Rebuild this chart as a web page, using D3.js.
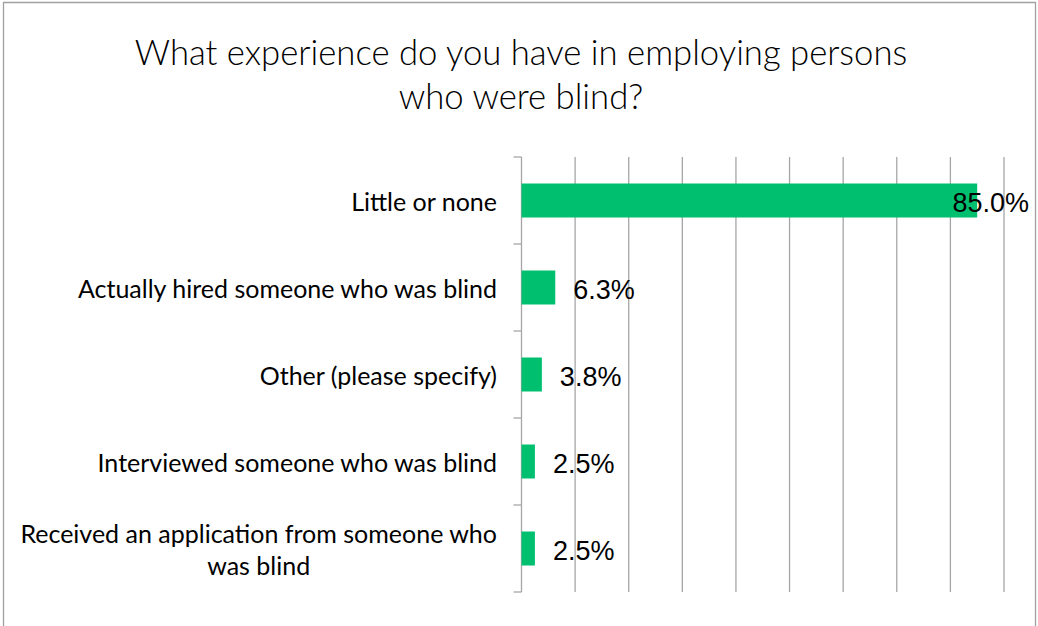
<!DOCTYPE html>
<html>
<head>
<meta charset="utf-8">
<script src="https://cdn.jsdelivr.net/npm/d3@7"></script>
<style>
  html, body { margin: 0; padding: 0; background: #fff; }
  svg { display: block; }
</style>
</head>
<body>
<script>
// Survey answers, in display order (top to bottom)
const categories = [
  "Little or none",
  "Actually hired someone who was blind",
  "Other (please specify)",
  "Interviewed someone who was blind",
  "Received an application from someone who was blind"
];
const percentValues = [85.0, 6.3, 3.8, 2.5, 2.5];
const axisTicks = [0, 10, 20, 30, 40, 50, 60, 70, 80, 90];
const titleLines = [
  "What experience do you have in employing persons",
  "who were blind?"
];

const W = 1038, H = 626;
const plot = { left: 521.5, right: 1004, top: 157, bottom: 592 };

const svg = d3.select("body").append("svg")
  .attr("width", W).attr("height", H);

svg.append("rect").attr("width", W).attr("height", H).attr("fill", "#fff");

// chart frame
svg.append("path")
  .attr("d", `M3.5,${H + 2} V2.5 H1035.5 V${H + 2}`)
  .attr("fill", "none").attr("stroke", "#a0a0a0").attr("stroke-width", 1.3);

// title
const title = svg.append("text")
  .attr("text-anchor", "middle")
  .attr("font-family", "Lato, 'Open Sans', sans-serif")
  .attr("font-weight", 300)
  .attr("font-size", 34.7)
  .attr("fill", "#000");
title.selectAll("tspan").data(titleLines).join("tspan")
  .attr("x", 521)
  .attr("y", (d, i) => 65 + i * 44)
  .text(d => d);

const x = d3.scaleLinear().domain([0, 90]).range([plot.left, plot.right]);
const y = d3.scaleBand().domain(categories).range([plot.top, plot.bottom]).padding(0);
const barH = 34;

// vertical gridlines
svg.append("g").selectAll("line").data(axisTicks.slice(1)).join("line")
  .attr("x1", d => x(d)).attr("x2", d => x(d))
  .attr("y1", plot.top).attr("y2", plot.bottom)
  .attr("stroke", "#a6a6a6").attr("stroke-width", 1.3);

// category axis with tick marks between categories
const boundaries = categories.map(c => y(c)).concat([plot.bottom]);
const axisG = svg.append("g");
axisG.append("line")
  .attr("x1", plot.left).attr("x2", plot.left)
  .attr("y1", plot.top).attr("y2", plot.bottom)
  .attr("stroke", "#a6a6a6").attr("stroke-width", 1.3);
axisG.selectAll("line.tick").data(boundaries).join("line")
  .attr("class", "tick")
  .attr("x1", plot.left - 8).attr("x2", plot.left)
  .attr("y1", d => d).attr("y2", d => d)
  .attr("stroke", "#a6a6a6").attr("stroke-width", 1.3);

// bars
const rows = categories.map((c, i) => ({ cat: c, val: percentValues[i] }));
svg.append("g").selectAll("rect").data(rows).join("rect")
  .attr("x", x(0))
  .attr("y", d => y(d.cat) + (y.bandwidth() - barH) / 2)
  .attr("width", d => x(d.val) - x(0))
  .attr("height", barH)
  .attr("fill", "#00bf6f");

// value labels
const valG = svg.append("g")
  .attr("font-family", "'Liberation Sans', Arial, sans-serif")
  .attr("font-size", 27)
  .attr("fill", "#000");
valG.selectAll("text").data(rows).join("text")
  .attr("y", d => y(d.cat) + y.bandwidth() / 2)
  .attr("dy", "0.42em")
  .text(d => d.val.toFixed(1) + "%")
  .each(function (d) {
    const w = this.getComputedTextLength();
    const px = Math.min(x(d.val) + 18, 1029 - w);
    d3.select(this).attr("x", px);
  });

// category labels, wrapped and centered on their widest line
const labelRight = 497, maxLabelW = 488, lineH = 32;
const labG = svg.append("g")
  .attr("font-family", "Lato, 'Open Sans', sans-serif")
  .attr("font-size", 25)
  .attr("fill", "#000");
rows.forEach(d => {
  const t = labG.append("text").attr("text-anchor", "middle");
  const words = d.cat.split(" ");
  const lines = [];
  let cur = "";
  const probe = labG.append("text");
  words.forEach(w => {
    const test = cur ? cur + " " + w : w;
    probe.text(test);
    if (probe.node().getComputedTextLength() > maxLabelW && cur) {
      lines.push(cur); cur = w;
    } else cur = test;
  });
  lines.push(cur);
  let widest = 0;
  lines.forEach(l => { probe.text(l); widest = Math.max(widest, probe.node().getComputedTextLength()); });
  probe.remove();
  const cx = labelRight - widest / 2;
  const cy = y(d.cat) + y.bandwidth() / 2;
  lines.forEach((l, i) => {
    t.append("tspan")
      .attr("x", cx)
      .attr("y", cy + (i - (lines.length - 1) / 2) * lineH)
      .attr("dy", "0.42em")
      .text(l);
  });
});
</script>
</body>
</html>
